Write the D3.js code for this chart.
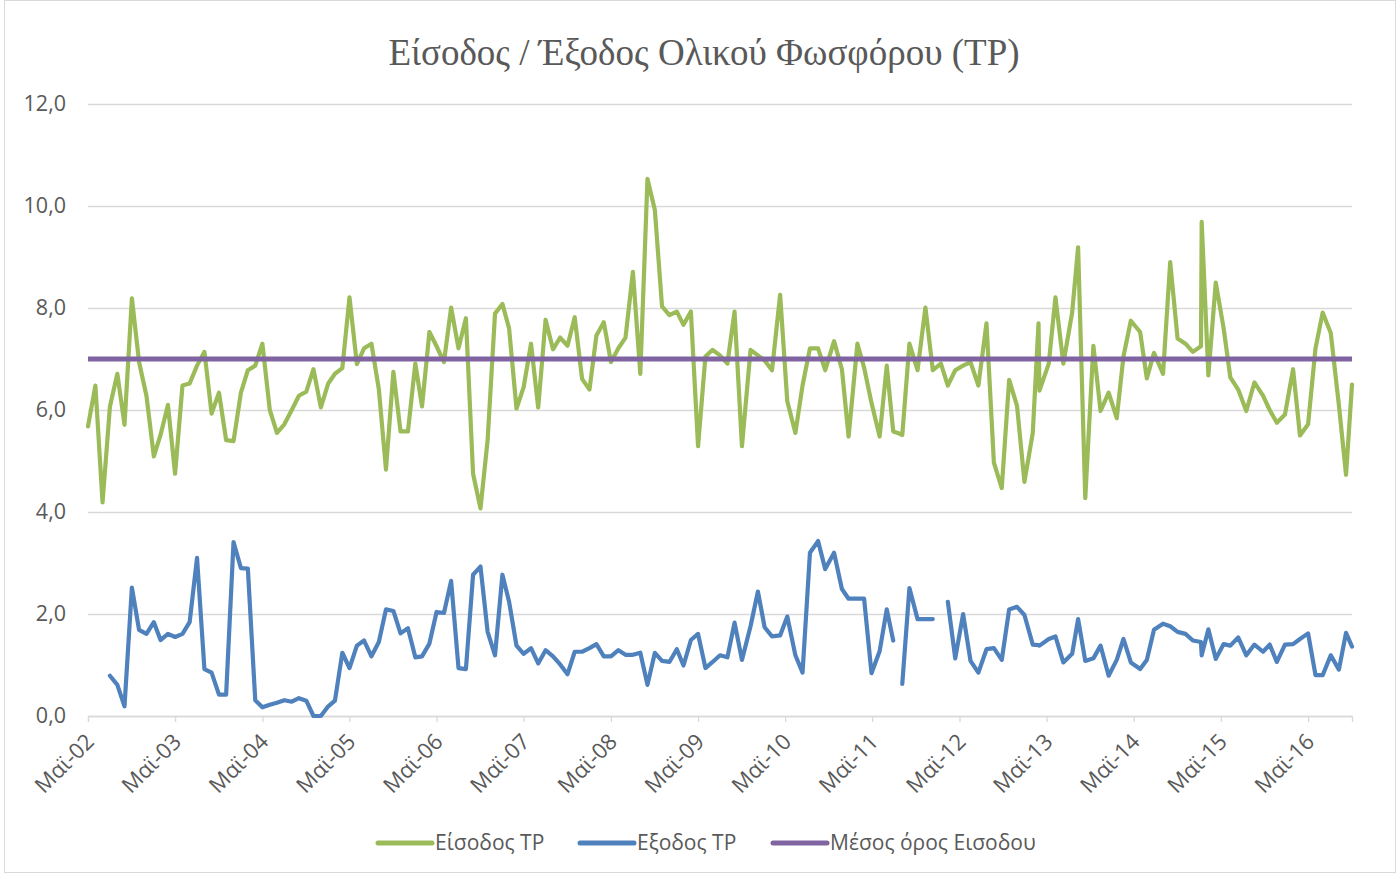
<!DOCTYPE html>
<html>
<head>
<meta charset="utf-8">
<script src="https://cdn.jsdelivr.net/npm/d3@7"></script>
<style>
  body { margin: 0; background: #fff; }
  svg { display: block; }
</style>
</head>
<body>
<div id="chart"></div>
<script>
// sample dates and the two series
const dates = [
  "2002-05-01","2002-06-01","2002-07-01","2002-08-01","2002-09-01","2002-10-01","2002-11-01","2002-12-01",
  "2003-01-01","2003-02-01","2003-03-01","2003-04-01","2003-05-01","2003-06-01","2003-07-01","2003-08-01",
  "2003-09-01","2003-10-01","2003-11-01","2003-12-01","2004-01-01","2004-02-01","2004-03-01","2004-04-01",
  "2004-05-01","2004-06-01","2004-07-01","2004-08-01","2004-09-01","2004-10-01","2004-11-01","2004-12-01",
  "2005-01-01","2005-02-01","2005-03-01","2005-04-01","2005-05-01","2005-06-01","2005-07-01","2005-08-01",
  "2005-09-01","2005-10-01","2005-11-01","2005-12-01","2006-01-01","2006-02-01","2006-03-01","2006-04-01",
  "2006-05-01","2006-06-01","2006-07-01","2006-08-01","2006-09-01","2006-10-01","2006-11-01","2006-12-01",
  "2007-01-01","2007-02-01","2007-03-01","2007-04-01","2007-05-01","2007-06-01","2007-07-01","2007-08-01",
  "2007-09-01","2007-10-01","2007-11-01","2007-12-01","2008-01-01","2008-02-01","2008-03-01","2008-04-01",
  "2008-05-01","2008-06-01","2008-07-01","2008-08-01","2008-09-01","2008-10-01","2008-11-01","2008-12-01",
  "2009-01-01","2009-02-01","2009-03-01","2009-04-01","2009-05-01","2009-06-01","2009-07-01","2009-08-01",
  "2009-09-01","2009-10-01","2009-11-01","2009-12-07","2010-01-07","2010-02-04","2010-03-07","2010-04-10",
  "2010-05-10","2010-06-13","2010-07-13","2010-08-13","2010-09-16","2010-10-16","2010-11-22","2010-12-25",
  "2011-01-22","2011-02-28","2011-03-28","2011-04-28","2011-06-01","2011-07-01","2011-07-28","2011-08-16",
  "2011-09-04","2011-10-04","2011-11-07","2011-12-10","2012-01-10","2012-02-13","2012-03-13","2012-04-13",
  "2012-05-16","2012-06-16","2012-07-19","2012-08-22","2012-09-22","2012-10-25","2012-11-25","2012-12-28",
  "2013-01-28","2013-03-04","2013-03-28","2013-04-01","2013-05-10","2013-06-07","2013-07-10","2013-08-16",
  "2013-09-10","2013-10-10","2013-11-13","2013-12-13","2014-01-16","2014-02-19","2014-03-19","2014-04-19",
  "2014-05-28","2014-06-25","2014-07-25","2014-09-01","2014-10-01","2014-11-01","2014-12-04","2015-01-04",
  "2015-02-07","2015-02-10","2015-03-10","2015-04-10","2015-05-13","2015-06-10","2015-07-13","2015-08-16",
  "2015-09-19","2015-10-25","2015-11-22","2015-12-22","2016-01-25","2016-02-28","2016-03-28","2016-05-01",
  "2016-06-01","2016-07-01","2016-08-04","2016-09-07","2016-10-07","2016-11-01"
];

const inputTP = [
  5.68,6.48,4.19,6.07,6.71,5.71,8.19,6.94,
  6.28,5.09,5.51,6.10,4.75,6.48,6.52,6.87,
  7.14,5.93,6.34,5.41,5.39,6.34,6.78,6.87,
  7.30,6.00,5.55,5.72,6.00,6.28,6.36,6.80,
  6.05,6.52,6.71,6.82,8.21,6.90,7.21,7.30,
  6.41,4.83,6.75,5.58,5.58,6.91,6.07,7.53,
  7.25,6.94,8.01,7.21,7.80,4.75,4.07,5.41,
  7.89,8.08,7.60,6.03,6.45,7.30,6.05,7.77,
  7.19,7.42,7.26,7.82,6.61,6.40,7.46,7.72,
  6.94,7.21,7.42,8.71,6.71,10.53,9.92,8.03,
  7.86,7.93,7.67,7.93,5.29,7.05,7.18,7.07,
  6.91,7.93,5.29,7.18,7.07,6.97,6.78,8.26,
  6.17,5.55,6.48,7.21,7.21,6.78,7.35,6.80,
  5.48,7.30,6.83,6.14,5.48,6.87,5.58,5.55,
  5.51,7.30,6.78,8.01,6.78,6.91,6.48,6.78,
  6.87,6.94,6.48,7.70,4.97,4.47,6.59,6.08,
  4.59,5.55,7.70,6.38,6.91,8.21,6.91,7.91,
  9.19,4.27,7.26,5.98,6.34,5.84,7.05,7.75,
  7.53,6.62,7.12,6.71,8.90,7.40,7.30,7.14,
  7.25,9.69,6.68,8.50,7.60,6.64,6.40,5.98,
  6.54,6.28,6.00,5.75,5.91,6.80,5.50,5.72,
  7.21,7.91,7.51,6.10,4.73,6.50
];

const outputTP = [
  null,null,null,0.79,0.61,0.19,2.52,1.69,
  1.61,1.84,1.49,1.61,1.55,1.61,1.84,3.10,
  0.92,0.85,0.42,0.42,3.41,2.90,2.89,0.31,
  0.17,0.22,0.26,0.31,0.28,0.35,0.30,0.00,
  0.00,0.19,0.30,1.24,0.94,1.38,1.48,1.17,
  1.45,2.09,2.06,1.62,1.72,1.15,1.17,1.42,
  2.04,2.02,2.65,0.94,0.92,2.77,2.93,1.65,
  1.19,2.77,2.24,1.38,1.22,1.33,1.03,1.29,
  1.17,1.01,0.82,1.26,1.26,1.33,1.41,1.17,
  1.17,1.29,1.20,1.20,1.24,0.61,1.24,1.08,
  1.06,1.31,0.99,1.49,1.61,0.94,1.06,1.19,
  1.15,1.83,1.10,1.76,2.44,1.74,1.56,1.58,
  1.95,1.19,0.85,3.20,3.43,2.88,3.20,2.49,
  2.30,2.30,2.30,0.84,1.27,2.09,1.48,null,
  0.63,2.51,1.90,1.90,1.90,null,2.24,1.13,
  2.00,1.08,0.85,1.31,1.33,1.10,2.09,2.14,
  1.98,1.40,1.39,1.38,1.51,1.56,1.05,1.22,
  1.90,1.08,1.13,1.38,0.79,1.10,1.51,1.05,
  0.92,1.10,1.69,1.81,1.76,1.65,1.61,1.48,
  1.45,1.19,1.70,1.12,1.41,1.38,1.54,1.19,
  1.40,1.26,1.40,1.06,1.40,1.41,1.51,1.62,
  0.80,0.80,1.19,0.91,1.63,1.36
];

const meanInput = 7.0;

const yTicks = [0, 2, 4, 6, 8, 10, 12];
const xTickLabels = ["Μαϊ-02","Μαϊ-03","Μαϊ-04","Μαϊ-05","Μαϊ-06","Μαϊ-07","Μαϊ-08",
  "Μαϊ-09","Μαϊ-10","Μαϊ-11","Μαϊ-12","Μαϊ-13","Μαϊ-14","Μαϊ-15","Μαϊ-16"];
const xTickDates = ["2002-05-01","2003-05-01","2004-05-01","2005-05-01","2006-05-01","2007-05-01",
  "2008-05-01","2009-05-01","2010-05-01","2011-05-01","2012-05-01","2013-05-01","2014-05-01",
  "2015-05-01","2016-05-01"];

const seriesNames = ["Είσοδος TP", "Εξοδος TP", "Μέσος όρος Εισοδου"];
const seriesColors = ["#9BBB59", "#4F81BD", "#8064A2"];

const width = 1400, height = 877;
const margin = {top: 104, right: 48, bottom: 161, left: 88};
const parse = d3.timeParse("%Y-%m-%d");
const X = dates.map(parse);

const x = d3.scaleTime()
  .domain(d3.extent(X))
  .range([margin.left, width - margin.right]);
const y = d3.scaleLinear()
  .domain([0, 12])
  .range([height - margin.bottom, margin.top]);

const svg = d3.select("#chart").append("svg")
  .attr("width", width)
  .attr("height", height)
  .style("font-family", "'Open Sans', sans-serif");

svg.append("rect")
  .attr("x", 4.5).attr("y", 0.5)
  .attr("width", width - 9).attr("height", height - 5)
  .attr("fill", "#fff")
  .attr("stroke", "#D9D9D9");

// title
svg.append("text")
  .attr("x", 704).attr("y", 65)
  .attr("text-anchor", "middle")
  .attr("fill", "#595959")
  .style("font-family", "'Liberation Serif', 'Times New Roman', serif")
  .style("font-size", "37px")
  .text("Είσοδος / Έξοδος Ολικού Φωσφόρου (TP)");

// horizontal grid + y labels
const yAxis = d3.axisLeft(y)
  .tickValues(yTicks)
  .tickSize(-(width - margin.left - margin.right))
  .tickPadding(22)
  .tickFormat(d => d3.format(".1f")(d).replace(".", ","));

svg.append("g")
  .attr("transform", `translate(${margin.left},0)`)
  .call(yAxis)
  .call(g => g.select(".domain").remove())
  .call(g => g.selectAll(".tick line").attr("stroke", "#D9D9D9").attr("stroke-width", 1.3))
  .call(g => g.selectAll(".tick text")
    .attr("fill", "#595959")
    .style("font-size", "21.5px")
    .style("font-family", "'Open Sans', sans-serif"));

// x axis
const xAxis = d3.axisBottom(x)
  .tickValues(xTickDates.map(parse))
  .tickSize(6)
  .tickFormat((d, i) => xTickLabels[i]);

svg.append("g")
  .attr("transform", `translate(0,${y(0)})`)
  .call(xAxis)
  .call(g => g.select(".domain").attr("stroke", "#D9D9D9").attr("stroke-width", 1.3))
  .call(g => g.selectAll(".tick line").attr("stroke", "#D9D9D9").attr("stroke-width", 1.3))
  .call(g => g.selectAll(".tick text")
    .attr("fill", "#595959")
    .style("font-size", "22px")
    .style("font-family", "'Open Sans', sans-serif")
    .attr("text-anchor", "end")
    .attr("dy", null)
    .attr("y", 0)
    .attr("transform", "translate(7,27) rotate(-45)"));

// series lines
const line = d3.line()
  .defined(d => d[1] != null)
  .x(d => x(d[0]))
  .y(d => y(d[1]));

svg.append("path")
  .datum(X.map((d, i) => [d, inputTP[i]]))
  .attr("fill", "none")
  .attr("stroke", seriesColors[0])
  .attr("stroke-width", 4.2)
  .attr("stroke-linejoin", "round")
  .attr("stroke-linecap", "round")
  .attr("d", line);

svg.append("path")
  .datum(X.map((d, i) => [d, outputTP[i]]))
  .attr("fill", "none")
  .attr("stroke", seriesColors[1])
  .attr("stroke-width", 4.2)
  .attr("stroke-linejoin", "round")
  .attr("stroke-linecap", "round")
  .attr("d", line);

svg.append("path")
  .datum(X.map(d => [d, meanInput]))
  .attr("fill", "none")
  .attr("stroke", seriesColors[2])
  .attr("stroke-width", 5)
  .attr("d", line);

// legend
const legendX = [378, 580, 773];
const legend = svg.append("g")
  .selectAll("g")
  .data(seriesNames)
  .join("g")
  .attr("transform", (d, i) => `translate(${legendX[i]},843)`);

legend.append("line")
  .attr("x1", 0).attr("x2", 54)
  .attr("stroke", (d, i) => seriesColors[i])
  .attr("stroke-width", 5)
  .attr("stroke-linecap", "round");

legend.append("text")
  .attr("x", 57)
  .attr("dy", "0.35em")
  .attr("fill", "#595959")
  .style("font-size", "21px")
  .text(d => d);
</script>
</body>
</html>
